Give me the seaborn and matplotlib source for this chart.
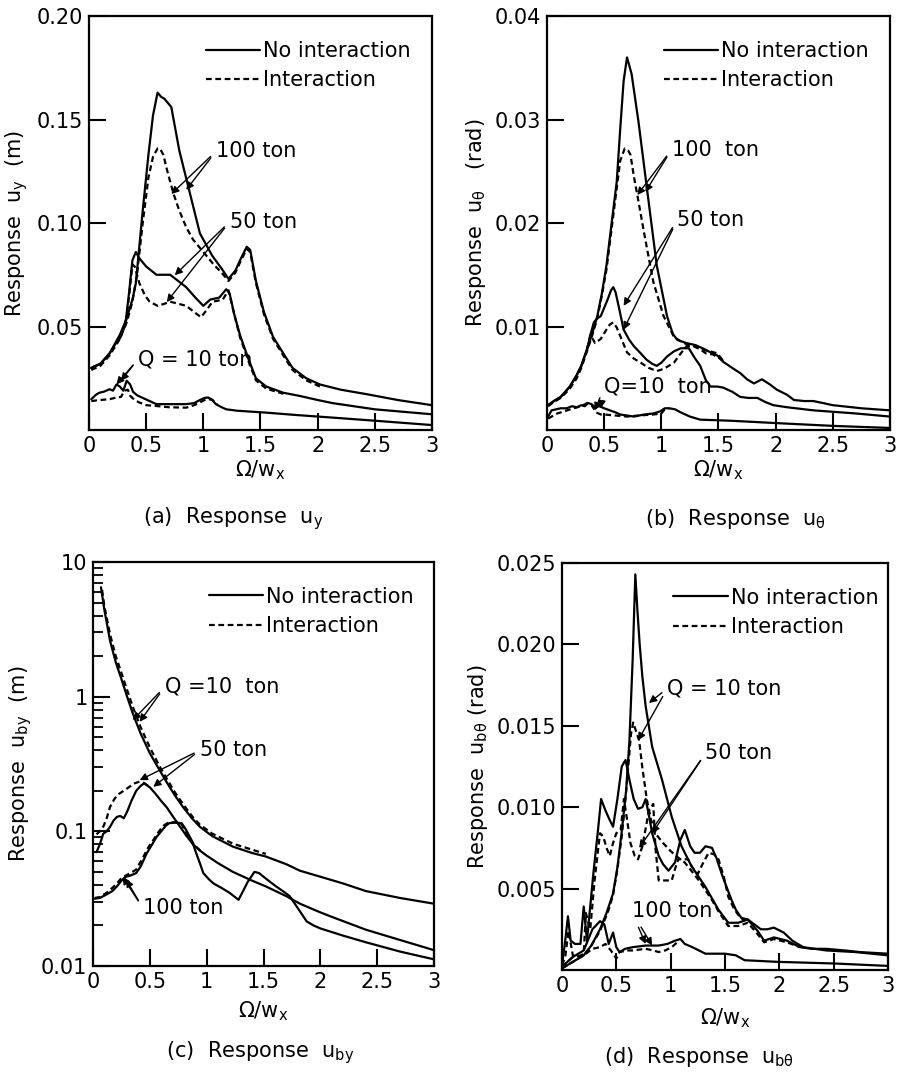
import matplotlib
matplotlib.use("Agg")
import matplotlib.pyplot as plt
import seaborn as sns
from matplotlib.lines import Line2D
from matplotlib.ticker import FixedLocator, FixedFormatter, LogLocator, NullFormatter

# ---------------- data: panel (a) response u_y (m) ----------------
A_NI100_X = [0.02, 0.1, 0.18, 0.27, 0.33, 0.38, 0.41, 0.47, 0.52, 0.56, 0.60, 0.63, 0.66, 0.72, 0.79, 0.88, 0.97, 1.08, 1.16, 1.22, 1.28, 1.33, 1.38, 1.41, 1.46, 1.53, 1.61, 1.7, 1.78, 1.9, 2.02, 2.2, 2.43, 2.7, 3.0]
A_NI100_Y = [0.030, 0.032, 0.037, 0.046, 0.054, 0.063, 0.071, 0.106, 0.133, 0.152, 0.163, 0.161, 0.160, 0.156, 0.135, 0.115, 0.095, 0.084, 0.078, 0.073, 0.077, 0.083, 0.0885, 0.087, 0.072, 0.057, 0.045, 0.037, 0.030, 0.025, 0.022, 0.0195, 0.0173, 0.0145, 0.012]
A_I100_X = [0.02, 0.1, 0.18, 0.27, 0.33, 0.38, 0.42, 0.47, 0.52, 0.56, 0.60, 0.62, 0.65, 0.69, 0.74, 0.79, 0.85, 0.91, 0.97, 1.03, 1.09, 1.16, 1.22, 1.28, 1.33, 1.38, 1.41, 1.46, 1.53, 1.61, 1.7, 1.78, 1.9, 2.02]
A_I100_Y = [0.029, 0.031, 0.036, 0.044, 0.052, 0.062, 0.075, 0.100, 0.122, 0.132, 0.136, 0.136, 0.133, 0.124, 0.114, 0.106, 0.098, 0.092, 0.088, 0.084, 0.080, 0.076, 0.072, 0.076, 0.082, 0.0875, 0.086, 0.071, 0.056, 0.044, 0.036, 0.029, 0.024, 0.021]
A_NI50_X = [0.02, 0.1, 0.18, 0.27, 0.32, 0.35, 0.38, 0.41, 0.44, 0.5, 0.59, 0.71, 0.78, 0.85, 0.93, 1.0, 1.06, 1.14, 1.2, 1.23, 1.27, 1.32, 1.39, 1.46, 1.55, 1.7, 1.84, 2.0, 2.13, 2.5, 3.0]
A_NI50_Y = [0.030, 0.032, 0.037, 0.045, 0.052, 0.066, 0.082, 0.086, 0.083, 0.079, 0.075, 0.075, 0.072, 0.069, 0.064, 0.060, 0.063, 0.064, 0.068, 0.066, 0.056, 0.046, 0.035, 0.025, 0.021, 0.018, 0.0165, 0.0145, 0.013, 0.010, 0.0076]
A_I50_X = [0.27, 0.32, 0.35, 0.38, 0.40, 0.44, 0.49, 0.53, 0.6, 0.66, 0.71, 0.78, 0.85, 0.92, 0.98, 1.03, 1.08, 1.13, 1.17, 1.22, 1.27, 1.32, 1.39, 1.46, 1.55, 1.7]
A_I50_Y = [0.044, 0.051, 0.064, 0.080, 0.079, 0.071, 0.065, 0.062, 0.060, 0.061, 0.062, 0.061, 0.060, 0.057, 0.0545, 0.058, 0.062, 0.0625, 0.063, 0.0675, 0.056, 0.045, 0.034, 0.024, 0.020, 0.0175]
A_NI10_X = [0.02, 0.06, 0.09, 0.13, 0.18, 0.21, 0.24, 0.27, 0.30, 0.33, 0.36, 0.385, 0.42, 0.47, 0.53, 0.59, 0.7, 0.85, 0.92, 0.97, 1.01, 1.04, 1.07, 1.11, 1.16, 1.2, 1.3, 1.55, 1.8, 2.13, 2.5, 3.0]
A_NI10_Y = [0.0149, 0.017, 0.018, 0.0185, 0.0197, 0.019, 0.022, 0.021, 0.019, 0.0238, 0.022, 0.0185, 0.0168, 0.0155, 0.014, 0.0125, 0.0125, 0.0125, 0.013, 0.0145, 0.0155, 0.0157, 0.015, 0.0125, 0.011, 0.010, 0.0093, 0.0084, 0.0073, 0.006, 0.0045, 0.0024]
A_I10_X = [0.02, 0.1, 0.18, 0.24, 0.28, 0.31, 0.34, 0.36, 0.40, 0.44, 0.5, 0.59, 0.7, 0.85, 0.92, 0.97, 1.01, 1.04, 1.08, 1.12]
A_I10_Y = [0.014, 0.0145, 0.0149, 0.0157, 0.016, 0.019, 0.0195, 0.0165, 0.0145, 0.0133, 0.012, 0.0116, 0.011, 0.0108, 0.012, 0.0133, 0.0145, 0.015, 0.0145, 0.0125]

# ---------------- data: panel (b) response u_theta (rad) ----------------
B_NI100_X = [0.01, 0.06, 0.12, 0.2, 0.26, 0.3, 0.35, 0.4, 0.44, 0.48, 0.52, 0.56, 0.61, 0.64, 0.67, 0.70, 0.74, 0.8, 0.87, 0.96, 1.05, 1.1, 1.14, 1.22, 1.3, 1.38, 1.43, 1.49, 1.54, 1.62, 1.69, 1.75, 1.81, 1.88, 1.95, 2.01, 2.1, 2.16, 2.25, 2.33, 2.5, 2.75, 3.0]
B_NI100_Y = [0.0024, 0.0028, 0.0032, 0.0042, 0.0053, 0.0062, 0.0078, 0.0095, 0.011, 0.0132, 0.0159, 0.0195, 0.024, 0.029, 0.0337, 0.036, 0.0344, 0.0298, 0.0237, 0.0159, 0.011, 0.0093, 0.0087, 0.0084, 0.0082, 0.0078, 0.0075, 0.0072, 0.0066, 0.006, 0.0055, 0.0049, 0.0045, 0.0049, 0.0044, 0.0039, 0.0034, 0.0029, 0.0028, 0.0028, 0.0024, 0.0021, 0.0019]
B_I100_X = [0.01, 0.06, 0.12, 0.2, 0.26, 0.3, 0.35, 0.4, 0.44, 0.48, 0.52, 0.56, 0.6, 0.64, 0.68, 0.71, 0.73, 0.76, 0.79, 0.85, 0.93, 1.02, 1.11, 1.18, 1.22, 1.3, 1.38, 1.43, 1.49, 1.54]
B_I100_Y = [0.0023, 0.0027, 0.0031, 0.004, 0.005, 0.006, 0.0076, 0.0093, 0.0108, 0.013, 0.0155, 0.019, 0.0225, 0.026, 0.0272, 0.027, 0.0266, 0.0245, 0.0227, 0.019, 0.0143, 0.011, 0.009, 0.0085, 0.0083, 0.0081, 0.0077, 0.0076, 0.0074, 0.0067]
B_NI50_X = [0.01, 0.06, 0.12, 0.2, 0.26, 0.3, 0.35, 0.38, 0.41, 0.44, 0.47, 0.5, 0.53, 0.56, 0.58, 0.6, 0.63, 0.67, 0.72, 0.76, 0.82, 0.87, 0.92, 0.96, 1.0, 1.05, 1.11, 1.17, 1.24, 1.29, 1.34, 1.39, 1.43, 1.49, 1.54, 1.62, 1.69, 1.76, 1.84, 1.91, 1.98, 2.1, 2.33, 2.7, 3.0]
B_NI50_Y = [0.0024, 0.0028, 0.0032, 0.0042, 0.0053, 0.0062, 0.0078, 0.0092, 0.0104, 0.0108, 0.011, 0.0118, 0.0126, 0.0135, 0.0138, 0.0133, 0.0118, 0.0097, 0.0087, 0.0081, 0.0074, 0.0068, 0.0064, 0.0062, 0.0065, 0.0071, 0.0076, 0.0079, 0.0079, 0.007, 0.0062, 0.0048, 0.0042, 0.0042, 0.0041, 0.0037, 0.0032, 0.0031, 0.0031, 0.0027, 0.0024, 0.0022, 0.0019, 0.0016, 0.0013]
B_I50_X = [0.35, 0.38, 0.42, 0.47, 0.52, 0.55, 0.58, 0.61, 0.64, 0.7, 0.76, 0.82, 0.89, 0.96, 1.02, 1.11, 1.17, 1.22, 1.28, 1.34, 1.39, 1.45, 1.5, 1.55]
B_I50_Y = [0.0078, 0.0092, 0.0084, 0.0088, 0.0097, 0.0102, 0.0104, 0.0099, 0.0091, 0.0075, 0.0069, 0.0065, 0.006, 0.0057, 0.0059, 0.0065, 0.0074, 0.0081, 0.0081, 0.0078, 0.0074, 0.0073, 0.0070, 0.0066]
B_NI10_X = [0.01, 0.04, 0.08, 0.12, 0.17, 0.22, 0.26, 0.3, 0.33, 0.36, 0.39, 0.42, 0.46, 0.5, 0.55, 0.6, 0.64, 0.7, 0.76, 0.85, 0.93, 0.99, 1.03, 1.07, 1.12, 1.17, 1.25, 1.34, 1.6, 2.04, 2.5, 3.0]
B_NI10_Y = [0.0013, 0.0019, 0.002, 0.0021, 0.0021, 0.0023, 0.0022, 0.0024, 0.0023, 0.0026, 0.0025, 0.0022, 0.0023, 0.0021, 0.0019, 0.0017, 0.0015, 0.0014, 0.0013, 0.0015, 0.0016, 0.0018, 0.0021, 0.0021, 0.002, 0.0017, 0.0013, 0.001, 0.0009, 0.00065, 0.0004, 0.0002]
B_I10_X = [0.01, 0.04, 0.09, 0.15, 0.23, 0.3, 0.35, 0.39, 0.43, 0.47, 0.5, 0.6, 0.7, 0.8, 0.93, 1.0, 1.03, 1.07]
B_I10_Y = [0.0011, 0.0013, 0.0016, 0.0018, 0.0021, 0.0023, 0.0026, 0.0024, 0.0017, 0.0015, 0.0015, 0.0014, 0.0013, 0.0014, 0.0015, 0.0016, 0.002, 0.0021]

# ---------------- data: panel (c) response u_by (m), log axis ----------------
C_NI10_X = [0.07, 0.1, 0.15, 0.2, 0.25, 0.3, 0.35, 0.42, 0.5, 0.58, 0.65, 0.72, 0.79, 0.87, 0.94, 1.05, 1.23, 1.4, 1.52, 1.7, 1.82, 2.0, 2.2, 2.4, 2.7, 3.0]
C_NI10_Y = [6.5, 4.4, 2.6, 1.8, 1.35, 1.0, 0.75, 0.53, 0.38, 0.29, 0.23, 0.185, 0.152, 0.125, 0.108, 0.092, 0.077, 0.069, 0.065, 0.057, 0.051, 0.046, 0.041, 0.036, 0.032, 0.029]
C_I10_X = [0.08, 0.1, 0.15, 0.2, 0.25, 0.3, 0.35, 0.42, 0.5, 0.58, 0.65, 0.72, 0.79, 0.87, 0.94, 1.05, 1.23, 1.4, 1.52]
C_I10_Y = [6.2, 4.7, 2.9, 2.0, 1.5, 1.12, 0.84, 0.59, 0.42, 0.31, 0.245, 0.195, 0.16, 0.13, 0.112, 0.096, 0.081, 0.073, 0.068]
C_NI50_X = [0.03, 0.06, 0.09, 0.12, 0.15, 0.18, 0.21, 0.24, 0.27, 0.3, 0.34, 0.38, 0.42, 0.45, 0.5, 0.55, 0.6, 0.65, 0.7, 0.76, 0.82, 0.88, 0.94, 1.0, 1.1, 1.23, 1.4, 1.52, 1.7, 1.82, 2.0, 2.11, 2.4, 2.7, 3.0]
C_NI50_Y = [0.070, 0.08, 0.096, 0.1, 0.108, 0.12, 0.128, 0.13, 0.125, 0.14, 0.17, 0.2, 0.218, 0.227, 0.212, 0.19, 0.168, 0.15, 0.13, 0.11, 0.093, 0.08, 0.072, 0.066, 0.058, 0.050, 0.043, 0.039, 0.033, 0.029, 0.025, 0.023, 0.0186, 0.0156, 0.0131]
C_I50_X = [0.03, 0.06, 0.09, 0.12, 0.15, 0.19, 0.23, 0.27, 0.32, 0.37, 0.41, 0.45, 0.5]
C_I50_Y = [0.095, 0.1, 0.108, 0.125, 0.152, 0.175, 0.19, 0.2, 0.214, 0.228, 0.234, 0.228, 0.214]
C_NI100_X = [0.015, 0.06, 0.12, 0.17, 0.21, 0.25, 0.29, 0.33, 0.38, 0.42, 0.47, 0.52, 0.56, 0.6, 0.64, 0.67, 0.72, 0.78, 0.82, 0.87, 0.91, 0.94, 0.97, 1.02, 1.06, 1.13, 1.2, 1.28, 1.32, 1.36, 1.42, 1.46, 1.5, 1.56, 1.61, 1.67, 1.73, 1.8, 1.88, 1.94, 2.0, 2.2, 2.4, 2.7, 3.0]
C_NI100_Y = [0.0316, 0.032, 0.034, 0.036, 0.039, 0.043, 0.046, 0.047, 0.049, 0.055, 0.068, 0.08, 0.091, 0.1, 0.11, 0.115, 0.116, 0.115, 0.102, 0.085, 0.068, 0.058, 0.049, 0.044, 0.041, 0.038, 0.035, 0.031, 0.036, 0.042, 0.050, 0.049, 0.046, 0.042, 0.039, 0.036, 0.033, 0.027, 0.0214, 0.020, 0.019, 0.0168, 0.015, 0.0128, 0.0112]
C_I100_X = [0.015, 0.06, 0.12, 0.17, 0.21, 0.25, 0.29, 0.33, 0.38, 0.44, 0.49, 0.53, 0.58, 0.62, 0.66, 0.72, 0.78, 0.84, 0.9, 0.95]
C_I100_Y = [0.032, 0.0325, 0.035, 0.038, 0.041, 0.045, 0.047, 0.049, 0.052, 0.064, 0.077, 0.086, 0.1, 0.11, 0.116, 0.117, 0.113, 0.09, 0.078, 0.071]

# ---------------- data: panel (d) response u_b-theta (rad) ----------------
D_NI10_X = [0.0, 0.1, 0.2, 0.27, 0.35, 0.41, 0.47, 0.51, 0.55, 0.59, 0.62, 0.65, 0.675, 0.695, 0.715, 0.74, 0.77, 0.83, 0.92, 1.01, 1.1, 1.19, 1.26, 1.32, 1.38, 1.44, 1.53, 1.62, 1.71, 1.8, 1.86, 1.95, 2.07, 2.19, 2.3, 2.43, 2.6, 2.74, 3.0]
D_NI10_Y = [0.0001, 0.0005, 0.0009, 0.0015, 0.0025, 0.0035, 0.0047, 0.0063, 0.0085, 0.011, 0.014, 0.019, 0.0243, 0.022, 0.0200, 0.018, 0.0162, 0.0137, 0.0117, 0.0094, 0.0076, 0.0064, 0.0057, 0.0051, 0.0044, 0.0037, 0.0029, 0.0029, 0.0031, 0.0024, 0.0018, 0.002, 0.0018, 0.0014, 0.0013, 0.0013, 0.0012, 0.0011, 0.001]
D_I10_X = [0.0, 0.1, 0.2, 0.27, 0.35, 0.42, 0.47, 0.51, 0.55, 0.58, 0.61, 0.635, 0.655, 0.68, 0.71, 0.74, 0.78, 0.82, 0.87, 0.93, 1.0, 1.07, 1.13, 1.19, 1.26, 1.32, 1.38, 1.44, 1.53, 1.62, 1.71, 1.8, 1.86, 1.95, 2.07, 2.19]
D_I10_Y = [0.0001, 0.0005, 0.0009, 0.0015, 0.0024, 0.0035, 0.0046, 0.0062, 0.0082, 0.0102, 0.0125, 0.0145, 0.0152, 0.0147, 0.0141, 0.0124, 0.0105, 0.0092, 0.0083, 0.0078, 0.0073, 0.0069, 0.0066, 0.0061, 0.0055, 0.0049, 0.0043, 0.0036, 0.0027, 0.0027, 0.0029, 0.0022, 0.0017, 0.0019, 0.0017, 0.0014]
D_NI50_X = [0.0, 0.03, 0.055, 0.08, 0.12, 0.17, 0.2, 0.23, 0.29, 0.33, 0.36, 0.4, 0.44, 0.47, 0.51, 0.55, 0.585, 0.62, 0.66, 0.7, 0.74, 0.77, 0.8, 0.83, 0.86, 0.89, 0.93, 0.98, 1.04, 1.09, 1.13, 1.18, 1.22, 1.27, 1.32, 1.38, 1.42, 1.47, 1.52, 1.56, 1.6, 1.65, 1.71, 1.77, 1.83, 1.89, 1.95, 2.04, 2.12, 2.22, 2.43, 2.7, 3.0]
D_NI50_Y = [0.0003, 0.0018, 0.0033, 0.0018, 0.0016, 0.0016, 0.0039, 0.0018, 0.006, 0.0085, 0.0105, 0.0098, 0.0092, 0.0088, 0.0105, 0.0125, 0.0129, 0.0117, 0.0105, 0.0099, 0.01, 0.0105, 0.0095, 0.0084, 0.0077, 0.007, 0.0065, 0.0061, 0.0066, 0.008, 0.0086, 0.0076, 0.0072, 0.0072, 0.0076, 0.0075, 0.0069, 0.0059, 0.005, 0.0043, 0.0037, 0.0032, 0.0031, 0.0028, 0.0025, 0.0025, 0.0026, 0.0023, 0.0018, 0.0014, 0.0012, 0.0011, 0.0009]
D_I50_X = [0.0, 0.03, 0.06, 0.1, 0.15, 0.2, 0.22, 0.26, 0.3, 0.35, 0.38, 0.41, 0.44, 0.47, 0.5, 0.54, 0.57, 0.6, 0.63, 0.67, 0.7, 0.74, 0.8, 0.84, 0.86, 0.89, 0.95, 1.01, 1.04, 1.07, 1.12, 1.16, 1.2, 1.25, 1.3, 1.35, 1.4, 1.44, 1.49, 1.53, 1.58, 1.62, 1.68]
D_I50_Y = [0.0003, 0.0008, 0.0024, 0.0009, 0.0008, 0.001, 0.0035, 0.0025, 0.0055, 0.0084, 0.0082, 0.0075, 0.007, 0.0078, 0.0084, 0.0086, 0.0105, 0.0092, 0.0078, 0.007, 0.0068, 0.0076, 0.0098, 0.0102, 0.0075, 0.0055, 0.0055, 0.0055, 0.0062, 0.0068, 0.0068, 0.0068, 0.0063, 0.0059, 0.0066, 0.0072, 0.0071, 0.0068, 0.0057, 0.0045, 0.0038, 0.0034, 0.0030]
D_NI100_X = [0.0, 0.1, 0.2, 0.28, 0.35, 0.39, 0.43, 0.47, 0.5, 0.53, 0.58, 0.65, 0.77, 0.89, 0.97, 1.04, 1.09, 1.13, 1.2, 1.32, 1.5, 1.6, 1.68, 1.98, 2.5, 3.0]
D_NI100_Y = [0.0002, 0.0008, 0.0012, 0.0025, 0.003, 0.0028, 0.0016, 0.0023, 0.0014, 0.0011, 0.0013, 0.0014, 0.0015, 0.0015, 0.0016, 0.0018, 0.0019, 0.0016, 0.0014, 0.001, 0.001, 0.0009, 0.0006, 0.0005, 0.0004, 0.00025]
D_I100_X = [0.0, 0.1, 0.2, 0.28, 0.35, 0.4, 0.45, 0.5, 0.53, 0.6, 0.65, 0.77, 0.84, 0.89, 0.95, 1.01, 1.06]
D_I100_Y = [0.0002, 0.0008, 0.0009, 0.0013, 0.0014, 0.0016, 0.0012, 0.0007, 0.0011, 0.0012, 0.0012, 0.0013, 0.0012, 0.0011, 0.0012, 0.0014, 0.0017]

# ---------------- text ----------------
X_TICKS = [0, 0.5, 1, 1.5, 2, 2.5, 3]
X_TICK_LABELS = ["0", "0.5", "1", "1.5", "2", "2.5", "3"]
A_YTICKS = [0.05, 0.10, 0.15, 0.20]
A_YTICK_LABELS = ["0.05", "0.10", "0.15", "0.20"]
B_YTICKS = [0.01, 0.02, 0.03, 0.04]
B_YTICK_LABELS = ["0.01", "0.02", "0.03", "0.04"]
C_YTICKS = [0.01, 0.1, 1, 10]
C_YTICK_LABELS = ["0.01", "0.1", "1", "10"]
D_YTICKS = [0.005, 0.010, 0.015, 0.020, 0.025]
D_YTICK_LABELS = ["0.005", "0.010", "0.015", "0.020", "0.025"]
LEGEND_LABELS = ["No interaction", "Interaction"]
XLABEL = "Ω/w$_x$"

# ---------------- style ----------------
sns.set_style("ticks")
plt.rcParams["font.family"] = ["DejaVu Sans"]
plt.rcParams["mathtext.default"] = "regular"
for key in ["text.color", "axes.labelcolor", "xtick.color", "ytick.color", "axes.edgecolor"]:
    plt.rcParams[key] = "black"
FS = 15
LW = 1.6
DASH = (0, (2.6, 1.6))

fig = plt.figure(figsize=(8.97, 10.81), dpi=100)

panels = [
    dict(pos=[0.0992, 0.6022, 0.3824, 0.383], ylim=(0, 0.2), log=False,
         yt=A_YTICKS, ytl=A_YTICK_LABELS, ylabel="Response  u$_y$  (m)",
         caption="(a)  Response  u$_y$", cap_x=0.42, xl_pad=2,
         series=[(A_NI100_X, A_NI100_Y, "-"), (A_I100_X, A_I100_Y, "--"),
                 (A_NI50_X, A_NI50_Y, "-"), (A_I50_X, A_I50_Y, "--"),
                 (A_NI10_X, A_NI10_Y, "-"), (A_I10_X, A_I10_Y, "--")],
         notes=[("100 ton", (1.11, 0.1346), [(0.72, 0.114), (0.85, 0.116)]),
                ("50 ton", (1.23, 0.1006), [(0.75, 0.0748), (0.68, 0.0618)]),
                ("Q = 10 ton", (0.43, 0.0343), [(0.24, 0.022), (0.28, 0.0238)])]),
    dict(pos=[0.6098, 0.6022, 0.3824, 0.383], ylim=(0, 0.04), log=False,
         yt=B_YTICKS, ytl=B_YTICK_LABELS, ylabel="Response  u$_θ$   (rad)",
         caption="(b)  Response  u$_θ$", cap_x=0.55, xl_pad=2,
         series=[(B_NI100_X, B_NI100_Y, "-"), (B_I100_X, B_I100_Y, "--"),
                 (B_NI50_X, B_NI50_Y, "-"), (B_I50_X, B_I50_Y, "--"),
                 (B_NI10_X, B_NI10_Y, "-"), (B_I10_X, B_I10_Y, "--")],
         notes=[("100  ton", (1.09, 0.0271), [(0.79, 0.0227), (0.86, 0.023)]),
                ("50 ton", (1.14, 0.0203), [(0.67, 0.0120), (0.67, 0.0097)]),
                ("Q=10  ton", (0.5, 0.0042), [(0.42, 0.0019), (0.47, 0.0021)])]),
    dict(pos=[0.1037, 0.1064, 0.3802, 0.3737], ylim=(0.01, 10), log=True,
         yt=C_YTICKS, ytl=C_YTICK_LABELS, ylabel="Response  u$_{by}$  (m)",
         caption="(c)  Response  u$_{by}$", cap_x=0.49, xl_pad=6,
         series=[(C_NI10_X, C_NI10_Y, "-"), (C_I10_X, C_I10_Y, "--"),
                 (C_NI50_X, C_NI50_Y, "-"), (C_I50_X, C_I50_Y, "--"),
                 (C_NI100_X, C_NI100_Y, "-"), (C_I100_X, C_I100_Y, "--")],
         notes=[("Q =10  ton", (0.63, 1.18), [(0.35, 0.67), (0.41, 0.65)]),
                ("50 ton", (0.94, 0.40), [(0.41, 0.24), (0.53, 0.214)]),
                ("100 ton", (0.44, 0.0268), [(0.26, 0.046), (0.29, 0.044)])]),
    dict(pos=[0.6265, 0.1027, 0.3635, 0.3765], ylim=(0, 0.025), log=False,
         yt=D_YTICKS, ytl=D_YTICK_LABELS, ylabel="Response  u$_{bθ}$ (rad)",
         caption="(d)  Response  u$_{bθ}$", cap_x=0.42, xl_pad=8,
         series=[(D_NI10_X, D_NI10_Y, "-"), (D_I10_X, D_I10_Y, "--"),
                 (D_NI50_X, D_NI50_Y, "-"), (D_I50_X, D_I50_Y, "--"),
                 (D_NI100_X, D_NI100_Y, "-"), (D_I100_X, D_I100_Y, "--")],
         notes=[("Q = 10 ton", (0.97, 0.0173), [(0.80, 0.0164), (0.70, 0.0141)]),
                ("50 ton", (1.32, 0.0133), [(0.83, 0.0084), (0.71, 0.0075)]),
                ("100 ton", (0.64, 0.0036), [(0.77, 0.0016), (0.83, 0.0015)])]),
]

for p in panels:
    ax = fig.add_axes(p["pos"])
    for xs, ys, ls in p["series"]:
        sns.lineplot(x=xs, y=ys, ax=ax, color="black", lw=LW,
                     linestyle=("-" if ls == "-" else DASH),
                     estimator=None, sort=False, legend=False)
    if p["log"]:
        ax.set_yscale("log")
    ax.set_xlim(0, 3)
    ax.set_ylim(*p["ylim"])
    ax.xaxis.set_major_locator(FixedLocator(X_TICKS))
    ax.xaxis.set_major_formatter(FixedFormatter(X_TICK_LABELS))
    ax.yaxis.set_major_locator(FixedLocator(p["yt"]))
    ax.yaxis.set_major_formatter(FixedFormatter(p["ytl"]))
    if p["log"]:
        ax.yaxis.set_minor_locator(LogLocator(base=10, subs=range(2, 10)))
        ax.yaxis.set_minor_formatter(NullFormatter())
        ax.tick_params(axis="y", which="minor", direction="in", length=7, width=1.3)
    ax.xaxis.set_minor_locator(FixedLocator([]))
    ax.tick_params(axis="both", which="major", direction="in", length=12, width=1.5,
                   labelsize=FS, pad=4, colors="black")
    for s in ax.spines.values():
        s.set_linewidth(1.6)
        s.set_color("black")
    ax.set_xlabel(XLABEL, fontsize=FS, labelpad=p["xl_pad"], color="black")
    ax.set_ylabel(p["ylabel"], fontsize=FS, labelpad=5, color="black")
    ax.text(p["cap_x"], -0.215, p["caption"], transform=ax.transAxes,
            ha="center", va="center", fontsize=FS, color="black")

    handles = [Line2D([], [], color="black", lw=LW),
               Line2D([], [], color="black", lw=LW, linestyle=DASH)]
    leg = ax.legend(handles, LEGEND_LABELS, loc="upper left", bbox_to_anchor=(0.31, 0.965),
                    frameon=False, fontsize=FS, handlelength=2.6, handletextpad=0.15,
                    borderpad=0, labelspacing=0.45)
    for t in leg.get_texts():
        t.set_color("black")

    for label, tpos, tips in p["notes"]:
        for i, tip in enumerate(tips):
            ax.annotate(label, xy=tip, xytext=tpos, fontsize=FS, va="center", ha="left",
                        color=("black" if i == 0 else "none"),
                        arrowprops=dict(arrowstyle="-|>", color="black", lw=1.0,
                                        mutation_scale=11, shrinkA=2, shrinkB=0,
                                        relpos=(0, 0.5)))

fig.savefig("out.png", dpi=100)
